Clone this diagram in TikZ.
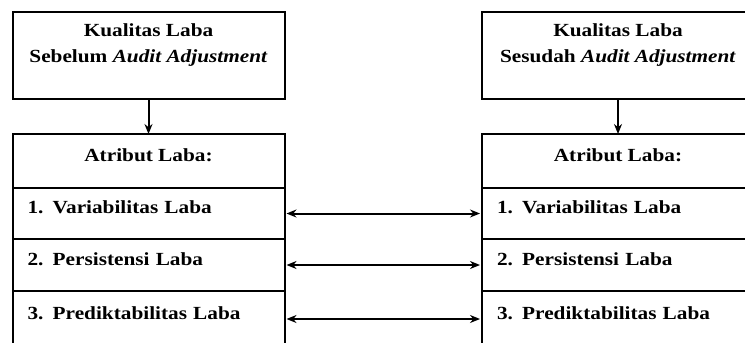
\documentclass[tikz,border=0pt]{standalone}
\usepackage{fontspec}
\setmainfont{Liberation Serif}[FakeStretch=1.15]
\usetikzlibrary{positioning,arrows.meta}
\begin{document}
\begin{tikzpicture}[x=1pt,y=-1pt,
    kotak/.style={draw,line width=2pt,outer sep=0pt,inner sep=0pt,minimum width=272pt},
    judul/.style={kotak,minimum height=87pt},
    baris/.style={kotak,text width=242pt,inner xsep=15pt,align=left,text height=11pt,text depth=11pt},
    panah/.style={line width=2pt,-{Stealth[length=10pt,width=8pt]}},
    panahdua/.style={line width=2pt,{Stealth[length=10pt,width=8pt]}-{Stealth[length=10pt,width=8pt]},shorten <=2pt,shorten >=2pt},
    font=\bfseries\fontsize{18.5}{26}\selectfont]
    \useasboundingbox (0,0) rectangle (745,343);
    \clip (0,0) rectangle (745,343);
    % kiri: sebelum
    \node[judul] (sebelum) at (148.5,55) {};
    \node[align=center] (teksA) at ([yshift=10pt]sebelum.center) {Kualitas Laba\\Sebelum \textit{Audit Adjustment}};
    \node[kotak,minimum height=54pt,text height=11pt,text depth=11pt] (atributA) at (148.5,161) {Atribut Laba:};
    \node[baris,minimum height=51pt,below=0pt of atributA] (varA) {1. Variabilitas Laba};
    \node[baris,minimum height=52pt,below=0pt of varA] (perA) {2. Persistensi Laba};
    \node[baris,minimum height=56pt,below=0pt of perA] (preA) {3. Prediktabilitas Laba};
    % kanan: sesudah
    \node[judul] (sesudah) at (618,55) {};
    \node[align=center] (teksB) at ([yshift=10pt]sesudah.center) {Kualitas Laba\\Sesudah \textit{Audit Adjustment}};
    \node[kotak,minimum height=54pt,text height=11pt,text depth=11pt] (atributB) at (618,161) {Atribut Laba:};
    \node[baris,minimum height=51pt,below=0pt of atributB] (varB) {1. Variabilitas Laba};
    \node[baris,minimum height=52pt,below=0pt of varB] (perB) {2. Persistensi Laba};
    \node[baris,minimum height=56pt,below=0pt of perB] (preB) {3. Prediktabilitas Laba};
    % panah
    \draw[panah] (sebelum) -- (atributA);
    \draw[panah] (sesudah) -- (atributB);
    \draw[panahdua] (varA) -- (varB);
    \draw[panahdua] (perA) -- (perB);
    \draw[panahdua] (preA) -- (preB);
\end{tikzpicture}
\end{document}
